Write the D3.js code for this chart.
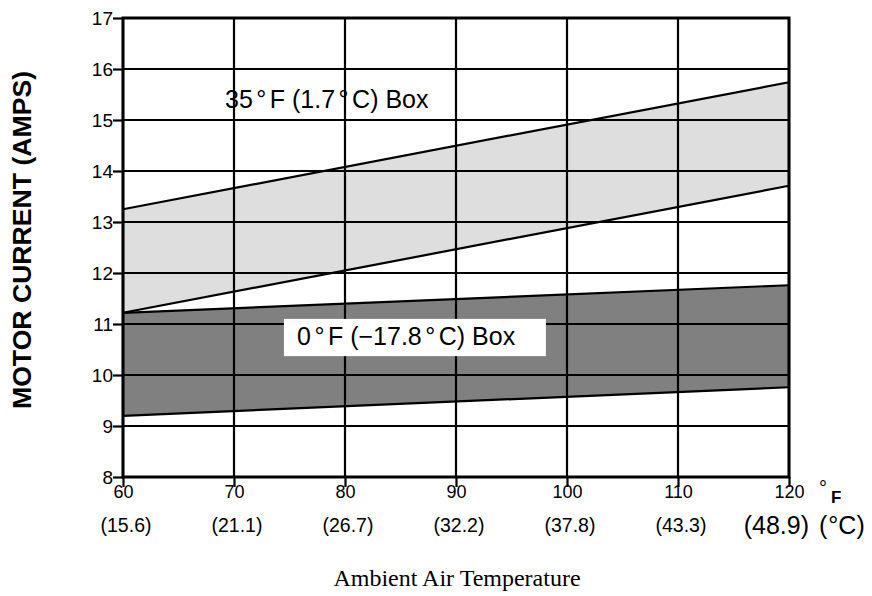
<!DOCTYPE html>
<html>
<head>
  <meta charset="UTF-8">
  <title>Motor Current vs Ambient Temperature</title>
  <script src="https://d3js.org/d3.v7.min.js"></script>
  <style>
    body {
      margin: 0;
      background: #fff;
      font-family: "Liberation Sans", Arial, sans-serif;
    }
    .grid line {
      stroke: #000;
      stroke-width: 2.2;
    }
    .edge {
      fill: none;
      stroke: #000;
      stroke-width: 2.2;
    }
  </style>
</head>
<body>
  <div id="chart"></div>
  <script>
    // ambient temperature (°F) at the ends of each band
    const temps = [60, 120];
    // 35°F (1.7°C) box band, amps
    const box35Upper = [13.25, 15.74];
    const box35Lower = [11.22, 13.71];
    // 0°F (-17.8°C) box band, amps
    const box0Upper = [11.22, 11.76];
    const box0Lower = [9.2, 9.76];

    const xTicks = [60, 70, 80, 90, 100, 110, 120];
    const celsiusLabels = ["(15.6)", "(21.1)", "(26.7)", "(32.2)", "(37.8)", "(43.3)", "(48.9)"];
    const yTicks = [8, 9, 10, 11, 12, 13, 14, 15, 16, 17];

    const width = 872, height = 596;
    const margin = { top: 18, right: 83, bottom: 119, left: 123 };
    const plotW = width - margin.left - margin.right;
    const plotH = height - margin.top - margin.bottom;

    const x = d3.scaleLinear().domain([60, 120]).range([0, plotW]);
    const y = d3.scaleLinear().domain([8, 17]).range([plotH, 0]);

    const svg = d3.select("#chart")
      .append("svg")
      .attr("width", width)
      .attr("height", height);

    const g = svg.append("g")
      .attr("transform", `translate(${margin.left}, ${margin.top})`);

    const band = (upper, lower) => temps.map((t, i) => ({ t, hi: upper[i], lo: lower[i] }));

    const area = d3.area()
      .x(d => x(d.t))
      .y0(d => y(d.lo))
      .y1(d => y(d.hi));

    g.append("path")
      .datum(band(box35Upper, box35Lower))
      .attr("fill", "#dedede")
      .attr("d", area);

    g.append("path")
      .datum(band(box0Upper, box0Lower))
      .attr("fill", "#808080")
      .attr("d", area);

    // grid
    const grid = g.append("g").attr("class", "grid");
    grid.selectAll(".vg")
      .data(xTicks)
      .enter()
      .append("line")
      .attr("x1", d => x(d))
      .attr("x2", d => x(d))
      .attr("y1", 0)
      .attr("y2", plotH);
    grid.selectAll(".hg")
      .data(yTicks)
      .enter()
      .append("line")
      .attr("x1", 0)
      .attr("x2", plotW)
      .attr("y1", d => y(d))
      .attr("y2", d => y(d));

    // white label box for the 0°F band
    g.append("rect")
      .attr("x", x(74.5))
      .attr("y", y(11.1))
      .attr("width", x(98.1) - x(74.5))
      .attr("height", y(10.37) - y(11.1))
      .attr("fill", "#fff");

    const line = d3.line()
      .x((d, i) => x(temps[i]))
      .y(d => y(d));

    [box35Upper, box35Lower, box0Upper, box0Lower].forEach(s => {
      g.append("path")
        .datum(s)
        .attr("class", "edge")
        .attr("d", line);
    });

    // frame
    g.append("rect")
      .attr("x", 0)
      .attr("y", 0)
      .attr("width", plotW)
      .attr("height", plotH)
      .attr("fill", "none")
      .attr("stroke", "#000")
      .attr("stroke-width", 3);

    // axes
    const yAxis = d3.axisLeft(y)
      .tickValues(yTicks)
      .tickFormat(d3.format("d"))
      .tickSize(10)
      .tickPadding(0);
    const ya = g.append("g").call(yAxis);
    ya.select(".domain").remove();
    ya.selectAll("line").attr("stroke", "#000").attr("stroke-width", 2.2);
    ya.selectAll("text")
      .attr("font-family", "Liberation Sans, Arial, sans-serif")
      .attr("font-size", 19)
      .attr("fill", "#000");

    const xAxis = d3.axisBottom(x)
      .tickValues(xTicks)
      .tickFormat(d3.format("d"))
      .tickSize(10)
      .tickPadding(0);
    const xa = g.append("g")
      .attr("transform", `translate(0, ${plotH})`)
      .call(xAxis);
    xa.select(".domain").remove();
    xa.selectAll("line").attr("stroke", "#000").attr("stroke-width", 2.2);
    xa.selectAll("text")
      .attr("font-family", "Liberation Sans, Arial, sans-serif")
      .attr("font-size", 18)
      .attr("fill", "#000")
      .attr("dy", "0.62em");

    const last = celsiusLabels.length - 1;
    g.selectAll(".clabel")
      .data(celsiusLabels)
      .enter()
      .append("text")
      .attr("class", "clabel")
      .attr("x", (d, i) => i === last ? x(xTicks[i]) + 20 : x(xTicks[i]) + 3)
      .attr("y", (d, i) => i === last ? plotH + 57 : plotH + 55)
      .attr("text-anchor", (d, i) => i === last ? "end" : "middle")
      .attr("font-size", (d, i) => i === last ? 25 : 19.5)
      .text(d => d);

    // unit labels
    const fUnit = g.append("text")
      .attr("x", plotW + 30)
      .attr("y", plotH + 26);
    fUnit.append("tspan").attr("font-size", 20).attr("dy", -8).text("°");
    fUnit.append("tspan").attr("font-size", 17).attr("font-weight", "bold").attr("dx", 4).attr("dy", 8).text("F");

    const cUnit = g.append("text")
      .attr("x", plotW + 30)
      .attr("y", plotH + 57)
      .attr("font-size", 25);
    cUnit.append("tspan").text("(");
    cUnit.append("tspan").attr("dx", 1).text("°");
    cUnit.append("tspan").text("C)");

    // band labels, degree signs spaced as in the original
    const degLabel = (parts, tx, ty) => {
      const t = g.append("text")
        .attr("x", x(tx))
        .attr("y", y(ty))
        .attr("font-size", 25);
      parts.forEach((p, i) => {
        if (i > 0) t.append("tspan").attr("dx", 3.5).text("°");
        t.append("tspan").attr("dx", i > 0 ? 3.5 : 0).text(p);
      });
    };
    degLabel(["35", "F (1.7", "C) Box"], 69.19, 15.24);
    degLabel(["0", "F (\u221217.8", "C) Box"], 75.68, 10.59);

    // axis titles
    svg.append("text")
      .attr("transform", `translate(${31}, ${240}) rotate(-90)`)
      .attr("text-anchor", "middle")
      .attr("font-size", 26)
      .attr("font-weight", "bold")
      .attr("textLength", 338)
      .attr("lengthAdjust", "spacingAndGlyphs")
      .text("MOTOR CURRENT (AMPS)");

    svg.append("text")
      .attr("x", 457)
      .attr("y", 586)
      .attr("text-anchor", "middle")
      .attr("font-family", "Liberation Serif, Times New Roman, serif")
      .attr("font-size", 24)
      .text("Ambient Air Temperature");
  </script>
</body>
</html>
